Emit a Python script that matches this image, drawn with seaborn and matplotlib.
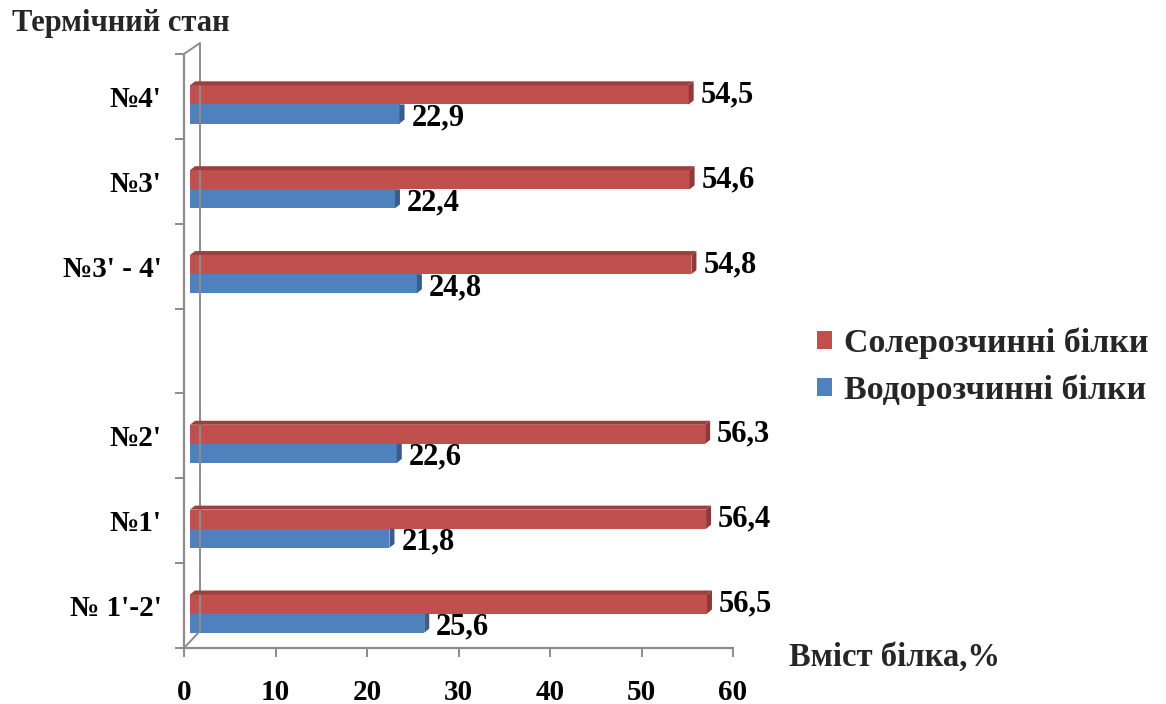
import numpy as np
import pandas as pd
import matplotlib
matplotlib.use("Agg")
import matplotlib.pyplot as plt
import seaborn as sns
from matplotlib.patches import Polygon
from matplotlib.lines import Line2D
from matplotlib.transforms import ScaledTranslation, IdentityTransform

# categories, top to bottom (the blank slot separates the two groups)
states = ["№4'", "№3'", "№3' - 4'", " ", "№2'", "№1'", "№ 1'-2'"]
measured = ["№4'", "№3'", "№3' - 4'", "№2'", "№1'", "№ 1'-2'"]
salt_soluble = [54.5, 54.6, 54.8, 56.3, 56.4, 56.5]
water_soluble = [22.9, 22.4, 24.8, 22.6, 21.8, 25.6]
series = ["Солерозчинні білки", "Водорозчинні білки"]
x_ticks = [0, 10, 20, 30, 40, 50, 60]

colors = ["#C0504D", "#4F81BD"]
side_colors = ["#8E3A37", "#385D8A"]
top_colors = ["#9B403D", "#3F6A9E"]
axis_grey = "#8C8C8C"

df = pd.DataFrame({
    "state": measured * 2,
    "value": salt_soluble + water_soluble,
    "series": [series[0]] * len(measured) + [series[1]] * len(measured),
})

sns.set_theme(style="white")
plt.rcParams["font.family"] = ["Liberation Serif", "DejaVu Serif"]
plt.rcParams["font.weight"] = "bold"

DPI = 100
W, H = 1166, 704
fig = plt.figure(figsize=(W / DPI, H / DPI), dpi=DPI)
ax = fig.add_axes([184 / W, 56 / H, 549 / W, 594 / H])

sns.barplot(data=df, y="state", x="value", hue="series", order=states,
            hue_order=series, palette=colors, orient="h", width=0.45,
            saturation=1, errorbar=None, linewidth=0, ax=ax, zorder=3)

handles, labels = ax.get_legend_handles_labels()
if ax.get_legend() is not None:
    ax.get_legend().remove()

ax.set_xlim(0, 60)
ax.set_ylim(len(states) - 0.5, -0.5)
ax.set_xlabel("")
ax.set_ylabel("")

for side in ["top", "right"]:
    ax.spines[side].set_visible(False)
for side in ["left", "bottom"]:
    ax.spines[side].set_color(axis_grey)
    ax.spines[side].set_linewidth(1.6)

ax.set_xticks(x_ticks)
ax.set_xticklabels([str(t) for t in x_ticks])
ax.tick_params(axis="x", which="major", bottom=True, direction="out",
               length=6.5, width=1.4, color=axis_grey, labelsize=21, pad=16)
ax.tick_params(axis="y", which="major", left=True, length=0, labelsize=21, pad=16)
ax.set_yticks(np.arange(-0.5, len(states), 1.0), minor=True)
ax.tick_params(axis="y", which="minor", left=True, direction="out",
               length=6.5, width=1.4, color=axis_grey)
for lbl in ax.get_xticklabels() + ax.get_yticklabels():
    lbl.set_fontweight("bold")
    lbl.set_color("black")

# back wall of the 3-D frame
x0, y0 = ax.transAxes.transform((0, 0))
_, y1 = ax.transAxes.transform((0, 1))
wall = Line2D([x0, x0 + 16, x0 + 16, x0], [y0, y0 + 17, y1 + 11, y1],
              transform=IdentityTransform(), color=axis_grey, lw=1.4,
              zorder=1)
fig.add_artist(wall)

# bars sit a little behind the front plane
shift_px = (6.0, -8.0)
shift = ScaledTranslation(shift_px[0] / DPI, shift_px[1] / DPI, fig.dpi_scale_trans)
trans = ax.transData + shift
depth = (5.0, 4.0)

for i, cont in enumerate(ax.containers):
    for p in cont.patches:
        w = p.get_width()
        if not np.isfinite(w) or w == 0:
            continue
        p.set_transform(trans)
        p.set_clip_on(False)
        xs = [p.get_x(), p.get_x() + w]
        ys = [p.get_y(), p.get_y() + p.get_height()]
        pts = trans.transform([(xs[0], ys[0]), (xs[1], ys[1])])
        L, R = pts[:, 0].min(), pts[:, 0].max()
        B, T = pts[:, 1].min(), pts[:, 1].max()
        dx, dy = depth
        if i == 0:
            top = Polygon([(L, T), (L + dx, T + dy), (R + dx, T + dy), (R, T)],
                          closed=True, transform=IdentityTransform(),
                          facecolor=top_colors[i], edgecolor="none", zorder=4)
            side = Polygon([(R, T), (R + dx, T + dy), (R + dx, B + dy), (R, B)],
                           closed=True, transform=IdentityTransform(),
                           facecolor=side_colors[i], edgecolor="none", zorder=4)
            fig.add_artist(top)
        else:
            side = Polygon([(R, T), (R + dx, T), (R + dx, B + dy), (R, B)],
                           closed=True, transform=IdentityTransform(),
                           facecolor=side_colors[i], edgecolor="none", zorder=4)
        fig.add_artist(side)

        text = f"{w:.1f}".replace(".", ",")
        off_x = (shift_px[0] + dx + 7) * 72 / DPI
        off_y = (shift_px[1] + (0 if i == 0 else -4)) * 72 / DPI
        ax.annotate(text, xy=(xs[1], p.get_y() + p.get_height() / 2),
                    xycoords="data", xytext=(off_x, off_y),
                    textcoords="offset points", ha="left", va="center",
                    fontsize=22, fontweight="bold", color="black",
                    annotation_clip=False, zorder=6)

fig.legend(handles, labels, loc="center left",
           bbox_to_anchor=(800 / W, 1 - 367 / H), frameon=False,
           fontsize=24.5, handlelength=0.45, handleheight=0.45,
           handletextpad=0.35, labelspacing=0.45, borderpad=0)

fig.text(12 / W, 1 - 24 / H, "Термічний стан", ha="left", va="center",
         fontsize=22, fontweight="bold")
fig.text(789 / W, 1 - 657 / H, "Вміст білка,%", ha="left", va="center",
         fontsize=23.5, fontweight="bold")

fig.savefig("out.png", dpi=DPI, facecolor="white")
